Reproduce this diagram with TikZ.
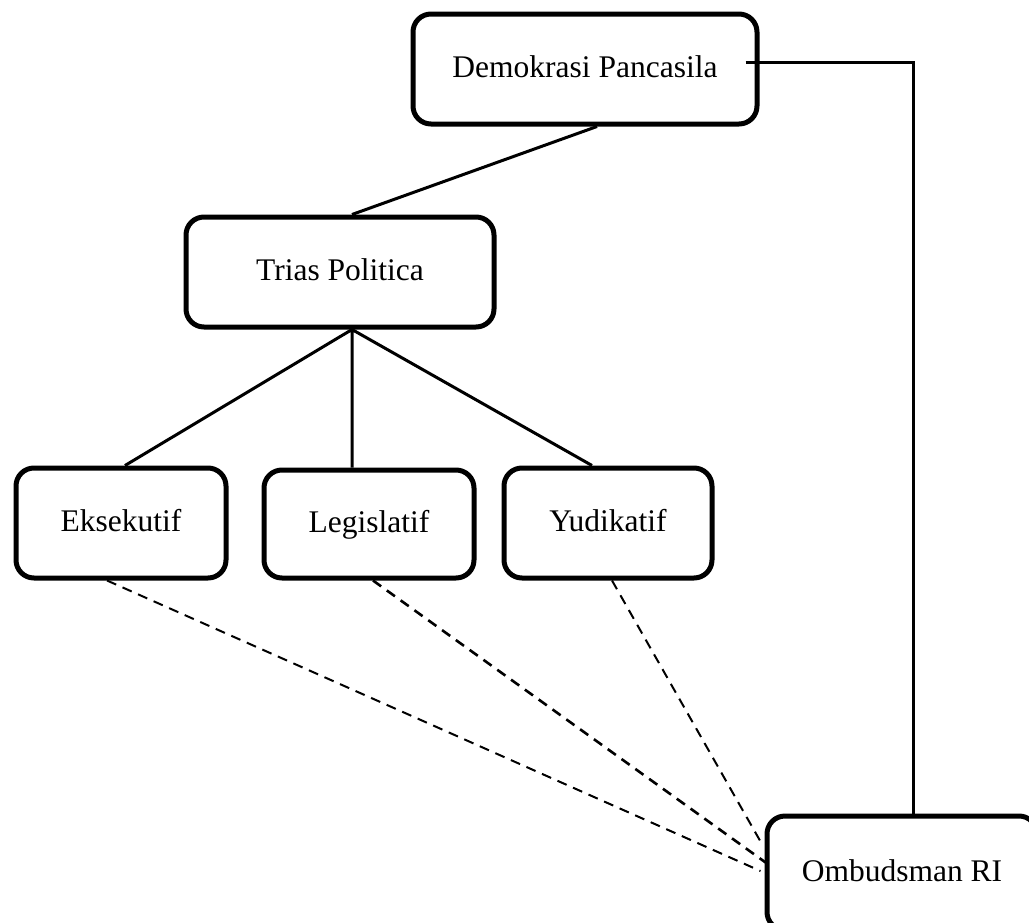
\documentclass[tikz,border=0pt]{standalone}
\usepackage{fontspec}
\setmainfont{Liberation Serif}
\usetikzlibrary{positioning}
\tikzset{box/.style={draw,line width=2.5pt,rounded corners=9pt,inner sep=0pt,text height=0.83em,text depth=0pt,font=\fontsize{15.75}{19}\selectfont}}
\tikzset{link/.style={line width=1.5pt}}
\tikzset{dashlink/.style={line width=1pt,dash pattern=on 5pt off 3.5pt}}

\begin{document}
\begin{tikzpicture}[x=0.5pt,y=-0.5pt]
  \path[use as bounding box,clip] (0,0) rectangle (1029,922);
  \node(dp)[box,minimum width=172pt,minimum height=55pt] at (585,69){Demokrasi Pancasila};
  \node(tp)[box,minimum width=154pt,minimum height=55pt] at (340,272){Trias Politica};
  \node(eks)[box,minimum width=105pt,minimum height=55pt] at (121,523){Eksekutif};
  \node(leg)[box,minimum width=105pt,minimum height=54pt] at (369,524){Legislatif};
  \node(yud)[box,minimum width=104pt,minimum height=55pt] at (608,523){Yudikatif};
  \node(omb)[box,minimum width=135pt,minimum height=57pt] at (902,873){Ombudsman RI};
  % tree
  \draw[link] ([xshift=6pt]dp.south) -- ([xshift=6pt]tp.north);
  \draw[link]
   ([xshift=6pt]tp.south) -- ([xshift=2pt]eks.north)
   ([xshift=6pt]tp.south) -- ([xshift=-8.5pt]leg.north)
   ([xshift=6pt]tp.south) -- ([xshift=-8pt]yud.north);
  \draw[link] ([xshift=-7pt,yshift=3.5pt]dp.east) -| ([xshift=5.5pt]omb.north);
  % dashed
  \draw[dashlink] ([xshift=-7pt]eks.south) -- ([xshift=-2pt,yshift=1pt]omb.west);
  \draw[dashlink,line width=1.3pt] ([xshift=2pt]leg.south) -- ([xshift=3pt,yshift=3.5pt]omb.west);
  \draw[dashlink] ([xshift=2pt]yud.south) -- ([xshift=-1pt,yshift=14pt]omb.west);
\end{tikzpicture}
\end{document}
